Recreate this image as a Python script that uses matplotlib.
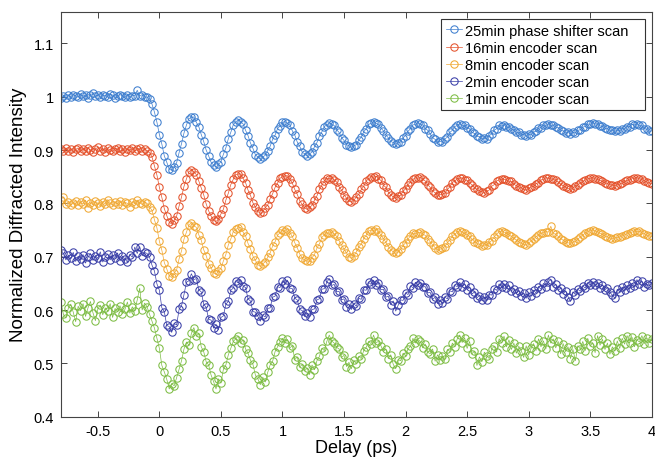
import matplotlib.pyplot as plt
import numpy as np
from matplotlib.patches import Rectangle
from matplotlib.ticker import FuncFormatter

plt.rcParams['font.family'] = ['Liberation Sans', 'DejaVu Sans']

# delay axis, 20 fs steps from -0.8 to 4 ps
delay = np.round(np.arange(-0.8, 4.0001, 0.02), 2)

scan_25min = [
    0.998, 1.001, 0.997, 1.003, 1.000, 1.004, 1.002, 0.999, 1.005, 1.001,
    1.003, 0.998, 1.004, 1.006, 1.001, 1.003, 0.999, 1.004, 1.002, 1.000,
    1.005, 1.003, 0.998, 1.002, 1.004, 1.001, 0.999, 1.003, 1.000, 1.002,
    1.002, 1.012, 1.001, 1.004, 1.000, 0.999, 0.996, 0.986, 0.971, 0.952,
    0.929, 0.911, 0.889, 0.877, 0.864, 0.862, 0.868, 0.876, 0.895, 0.912,
    0.932, 0.947, 0.959, 0.961, 0.962, 0.952, 0.944, 0.929, 0.916, 0.900,
    0.889, 0.877, 0.872, 0.868, 0.873, 0.878, 0.892, 0.904, 0.921, 0.933,
    0.947, 0.952, 0.957, 0.953, 0.949, 0.937, 0.927, 0.913, 0.903, 0.891,
    0.887, 0.883, 0.887, 0.890, 0.899, 0.907, 0.920, 0.928, 0.940, 0.945,
    0.952, 0.953, 0.950, 0.947, 0.936, 0.928, 0.915, 0.907, 0.896, 0.893,
    0.889, 0.893, 0.896, 0.906, 0.914, 0.926, 0.934, 0.944, 0.947, 0.951,
    0.948, 0.946, 0.938, 0.933, 0.923, 0.918, 0.910, 0.908, 0.905, 0.908,
    0.910, 0.919, 0.924, 0.934, 0.940, 0.948, 0.950, 0.953, 0.950, 0.948,
    0.941, 0.936, 0.928, 0.923, 0.916, 0.914, 0.911, 0.914, 0.915, 0.923,
    0.927, 0.935, 0.940, 0.947, 0.948, 0.951, 0.948, 0.947, 0.940, 0.937,
    0.930, 0.923, 0.920, 0.915, 0.916, 0.915, 0.921, 0.924, 0.933, 0.937,
    0.944, 0.946, 0.949, 0.946, 0.946, 0.941, 0.940, 0.933, 0.931, 0.926,
    0.925, 0.921, 0.922, 0.921, 0.927, 0.930, 0.937, 0.940, 0.946, 0.945,
    0.947, 0.943, 0.943, 0.939, 0.938, 0.933, 0.933, 0.929, 0.929, 0.927,
    0.930, 0.929, 0.934, 0.935, 0.941, 0.942, 0.947, 0.946, 0.949, 0.946,
    0.947, 0.943, 0.942, 0.937, 0.936, 0.932, 0.933, 0.930, 0.933, 0.932,
    0.937, 0.938, 0.943, 0.944, 0.949, 0.948, 0.951, 0.949, 0.949, 0.945,
    0.945, 0.941, 0.940, 0.937, 0.937, 0.935, 0.937, 0.936, 0.940, 0.940,
    0.944, 0.944, 0.948, 0.947, 0.949, 0.946, 0.946, 0.940, 0.939, 0.935,
    0.936,
]

scan_16min = [
    0.901, 0.898, 0.903, 0.899, 0.902, 0.897, 0.901, 0.904, 0.899, 0.902,
    0.898, 0.903, 0.900, 0.896, 0.902, 0.905, 0.899, 0.901, 0.897, 0.903,
    0.900, 0.898, 0.902, 0.904, 0.899, 0.901, 0.897, 0.902, 0.900, 0.903,
    0.898, 0.901, 0.904, 0.899, 0.901, 0.899, 0.895, 0.887, 0.870, 0.853,
    0.830, 0.811, 0.790, 0.777, 0.765, 0.761, 0.768, 0.776, 0.795, 0.812,
    0.832, 0.846, 0.859, 0.863, 0.859, 0.854, 0.842, 0.829, 0.816, 0.799,
    0.786, 0.776, 0.768, 0.766, 0.770, 0.780, 0.789, 0.806, 0.819, 0.835,
    0.845, 0.854, 0.855, 0.855, 0.847, 0.839, 0.825, 0.815, 0.801, 0.793,
    0.785, 0.781, 0.784, 0.792, 0.797, 0.809, 0.818, 0.830, 0.838, 0.847,
    0.850, 0.851, 0.852, 0.845, 0.838, 0.826, 0.817, 0.805, 0.798, 0.791,
    0.789, 0.793, 0.796, 0.806, 0.814, 0.826, 0.834, 0.842, 0.847, 0.846,
    0.848, 0.844, 0.840, 0.831, 0.825, 0.816, 0.810, 0.804, 0.803, 0.806,
    0.812, 0.817, 0.826, 0.832, 0.842, 0.846, 0.850, 0.849, 0.851, 0.846,
    0.843, 0.834, 0.830, 0.821, 0.816, 0.812, 0.810, 0.814, 0.815, 0.823,
    0.827, 0.835, 0.840, 0.845, 0.848, 0.847, 0.849, 0.845, 0.842, 0.835,
    0.830, 0.823, 0.820, 0.815, 0.816, 0.817, 0.819, 0.826, 0.831, 0.839,
    0.842, 0.846, 0.847, 0.848, 0.844, 0.843, 0.838, 0.835, 0.829, 0.826,
    0.823, 0.822, 0.820, 0.823, 0.825, 0.832, 0.835, 0.842, 0.844, 0.845,
    0.845, 0.844, 0.841, 0.841, 0.836, 0.833, 0.831, 0.829, 0.826, 0.825,
    0.828, 0.831, 0.832, 0.837, 0.839, 0.844, 0.845, 0.848, 0.847, 0.846,
    0.845, 0.843, 0.840, 0.836, 0.833, 0.830, 0.828, 0.826, 0.829, 0.832,
    0.835, 0.838, 0.841, 0.844, 0.846, 0.847, 0.848, 0.846, 0.845, 0.843,
    0.841, 0.839, 0.837, 0.835, 0.834, 0.833, 0.835, 0.836, 0.838, 0.841,
    0.843, 0.844, 0.846, 0.847, 0.848, 0.846, 0.845, 0.842, 0.840, 0.838,
    0.837,
]

scan_8min = [
    0.807, 0.812, 0.799, 0.803, 0.797, 0.801, 0.805, 0.796, 0.802, 0.799,
    0.806, 0.792, 0.801, 0.797, 0.804, 0.800, 0.795, 0.803, 0.798, 0.807,
    0.801, 0.796, 0.803, 0.799, 0.805, 0.797, 0.802, 0.800, 0.794, 0.803,
    0.799, 0.806, 0.801, 0.798, 0.802, 0.800, 0.793, 0.787, 0.769, 0.754,
    0.729, 0.712, 0.689, 0.677, 0.664, 0.661, 0.669, 0.675, 0.696, 0.711,
    0.733, 0.746, 0.759, 0.764, 0.758, 0.755, 0.741, 0.731, 0.713, 0.702,
    0.687, 0.679, 0.670, 0.667, 0.673, 0.678, 0.692, 0.704, 0.722, 0.733,
    0.747, 0.751, 0.754, 0.755, 0.746, 0.739, 0.725, 0.715, 0.701, 0.693,
    0.685, 0.682, 0.687, 0.690, 0.699, 0.707, 0.720, 0.728, 0.740, 0.745,
    0.750, 0.749, 0.752, 0.745, 0.738, 0.726, 0.717, 0.705, 0.698, 0.693,
    0.692, 0.691, 0.698, 0.704, 0.716, 0.724, 0.736, 0.741, 0.745, 0.744,
    0.746, 0.743, 0.738, 0.730, 0.722, 0.714, 0.707, 0.700, 0.697, 0.701,
    0.709, 0.718, 0.724, 0.734, 0.740, 0.748, 0.750, 0.749, 0.751, 0.746,
    0.741, 0.734, 0.727, 0.719, 0.713, 0.709, 0.706, 0.709, 0.714, 0.721,
    0.726, 0.733, 0.739, 0.744, 0.743, 0.745, 0.746, 0.742, 0.740, 0.734,
    0.728, 0.722, 0.717, 0.713, 0.714, 0.716, 0.719, 0.726, 0.731, 0.739,
    0.742, 0.746, 0.749, 0.746, 0.744, 0.741, 0.738, 0.733, 0.728, 0.725,
    0.723, 0.720, 0.722, 0.721, 0.727, 0.730, 0.737, 0.742, 0.747, 0.748,
    0.746, 0.745, 0.741, 0.738, 0.735, 0.731, 0.728, 0.725, 0.723, 0.722,
    0.726, 0.729, 0.734, 0.737, 0.741, 0.744, 0.745, 0.747, 0.746, 0.757,
    0.744, 0.742, 0.738, 0.734, 0.731, 0.728, 0.726, 0.725, 0.727, 0.729,
    0.733, 0.737, 0.741, 0.744, 0.747, 0.749, 0.750, 0.748, 0.747, 0.744,
    0.742, 0.739, 0.737, 0.735, 0.734, 0.735, 0.736, 0.737, 0.739, 0.741,
    0.743, 0.745, 0.746, 0.748, 0.747, 0.748, 0.745, 0.743, 0.740, 0.739,
    0.738,
]

scan_2min = [
    0.713, 0.706, 0.694, 0.703, 0.697, 0.708, 0.691, 0.701, 0.696, 0.704,
    0.688, 0.699, 0.706, 0.693, 0.702, 0.697, 0.709, 0.690, 0.700, 0.705,
    0.694, 0.703, 0.698, 0.707, 0.692, 0.701, 0.696, 0.690, 0.704, 0.699,
    0.718, 0.706, 0.719, 0.702, 0.708, 0.706, 0.699, 0.684, 0.673, 0.649,
    0.637, 0.604, 0.597, 0.571, 0.569, 0.558, 0.575, 0.572, 0.601, 0.608,
    0.629, 0.652, 0.655, 0.668, 0.657, 0.659, 0.638, 0.634, 0.611, 0.605,
    0.583, 0.581, 0.566, 0.573, 0.563, 0.586, 0.589, 0.611, 0.616, 0.637,
    0.641, 0.654, 0.651, 0.657, 0.645, 0.642, 0.621, 0.617, 0.597, 0.596,
    0.588, 0.579, 0.590, 0.587, 0.603, 0.604, 0.624, 0.626, 0.644, 0.642,
    0.655, 0.649, 0.656, 0.641, 0.640, 0.622, 0.619, 0.601, 0.599, 0.588,
    0.594, 0.587, 0.601, 0.602, 0.619, 0.621, 0.639, 0.640, 0.652, 0.659,
    0.646, 0.648, 0.634, 0.635, 0.619, 0.621, 0.606, 0.611, 0.601, 0.612,
    0.607, 0.622, 0.620, 0.638, 0.637, 0.652, 0.648, 0.656, 0.647, 0.650,
    0.638, 0.639, 0.624, 0.626, 0.610, 0.617, 0.598, 0.609, 0.619, 0.618,
    0.632, 0.629, 0.645, 0.642, 0.652, 0.647, 0.651, 0.643, 0.644, 0.632,
    0.633, 0.620, 0.624, 0.612, 0.619, 0.613, 0.624, 0.621, 0.636, 0.634,
    0.646, 0.644, 0.652, 0.643, 0.649, 0.638, 0.643, 0.630, 0.634, 0.623,
    0.627, 0.619, 0.624, 0.618, 0.629, 0.628, 0.640, 0.637, 0.649, 0.644,
    0.649, 0.641, 0.646, 0.636, 0.640, 0.631, 0.636, 0.627, 0.631, 0.622,
    0.633, 0.626, 0.637, 0.632, 0.644, 0.639, 0.650, 0.644, 0.653, 0.657,
    0.643, 0.648, 0.637, 0.641, 0.630, 0.636, 0.625, 0.616, 0.634, 0.629,
    0.639, 0.635, 0.645, 0.641, 0.651, 0.646, 0.653, 0.647, 0.650, 0.642,
    0.647, 0.638, 0.642, 0.633, 0.628, 0.622, 0.639, 0.634, 0.643, 0.638,
    0.646, 0.642, 0.650, 0.645, 0.657, 0.649, 0.654, 0.644, 0.648, 0.646,
    0.650,
]

scan_1min = [
    0.615, 0.592, 0.585, 0.603, 0.611, 0.596, 0.578, 0.607, 0.599, 0.612,
    0.588, 0.604, 0.616, 0.595, 0.580, 0.602, 0.609, 0.591, 0.604, 0.598,
    0.612, 0.586, 0.603, 0.597, 0.608, 0.593, 0.601, 0.615, 0.594, 0.606,
    0.598, 0.619, 0.641, 0.600, 0.613, 0.606, 0.592, 0.579, 0.566, 0.547,
    0.528, 0.496, 0.484, 0.470, 0.452, 0.462, 0.458, 0.473, 0.489, 0.505,
    0.527, 0.540, 0.534, 0.556, 0.567, 0.551, 0.556, 0.531, 0.522, 0.503,
    0.497, 0.478, 0.466, 0.452, 0.471, 0.463, 0.489, 0.497, 0.516, 0.528,
    0.541, 0.546, 0.551, 0.538, 0.544, 0.527, 0.519, 0.506, 0.498, 0.478,
    0.471, 0.460, 0.474, 0.465, 0.483, 0.497, 0.504, 0.522, 0.531, 0.540,
    0.547, 0.538, 0.545, 0.529, 0.533, 0.507, 0.512, 0.493, 0.498, 0.486,
    0.491, 0.479, 0.497, 0.488, 0.505, 0.513, 0.528, 0.524, 0.541, 0.553,
    0.542, 0.538, 0.530, 0.527, 0.511, 0.515, 0.494, 0.502, 0.490, 0.506,
    0.499, 0.513, 0.509, 0.524, 0.530, 0.541, 0.537, 0.553, 0.539, 0.541,
    0.533, 0.522, 0.527, 0.509, 0.516, 0.498, 0.490, 0.507, 0.505, 0.519,
    0.514, 0.527, 0.532, 0.547, 0.538, 0.545, 0.541, 0.529, 0.536, 0.521,
    0.518, 0.527, 0.504, 0.516, 0.506, 0.513, 0.509, 0.526, 0.522, 0.538,
    0.531, 0.546, 0.553, 0.539, 0.548, 0.528, 0.541, 0.518, 0.523, 0.496,
    0.512, 0.503, 0.521, 0.514, 0.509, 0.527, 0.532, 0.521, 0.546, 0.538,
    0.551, 0.531, 0.544, 0.526, 0.538, 0.519, 0.532, 0.524, 0.511, 0.533,
    0.516, 0.528, 0.537, 0.524, 0.546, 0.531, 0.542, 0.527, 0.553, 0.538,
    0.546, 0.529, 0.541, 0.518, 0.537, 0.522, 0.531, 0.509, 0.526, 0.505,
    0.533, 0.527, 0.541, 0.524, 0.547, 0.532, 0.539, 0.520, 0.552, 0.534,
    0.545, 0.526, 0.538, 0.517, 0.531, 0.523, 0.542, 0.528, 0.547, 0.536,
    0.552, 0.538, 0.549, 0.531, 0.544, 0.540, 0.552, 0.537, 0.548, 0.539,
    0.545,
]

labels = ['25min phase shifter scan', '16min encoder scan', '8min encoder scan',
          '2min encoder scan', '1min encoder scan']
colors = ['#3f7fcf', '#e4522c', '#f0a935', '#3a3fa8', '#7dbd44']
scans = [scan_25min, scan_16min, scan_8min, scan_2min, scan_1min]

fig = plt.figure(figsize=(6.55, 4.6), dpi=100)
ax = fig.add_axes([0.093, 0.092, 0.902, 0.880])

for y, c, lab in zip(scans, colors, labels):
    ax.plot(delay, y, '-o', color=c, lw=0.5, ms=5.3, mfc='none', mew=0.75, label=lab)

ax.set_xlim(-0.8, 4.0)
ax.set_ylim(0.4, 1.159)
ax.set_xticks(np.arange(-0.5, 4.01, 0.5))
ax.set_yticks(np.arange(0.4, 1.101, 0.1))
ax.xaxis.set_major_formatter(FuncFormatter(lambda v, p: f'{v:g}'))
ax.yaxis.set_major_formatter(FuncFormatter(lambda v, p: f'{round(v, 2):g}'))
ax.tick_params(direction='in', top=True, right=True, length=4, width=0.7,
               color='#444444', labelsize=10.5, pad=5)
for s in ax.spines.values():
    s.set_linewidth(0.8)
    s.set_color('#444444')

ax.set_xlabel('Delay (ps)', fontsize=13, labelpad=1)
ax.set_ylabel('Normalized Diffracted Intensity', fontsize=13.5, labelpad=5)

# legend without its own frame; the box is drawn wider to the right
leg = ax.legend(loc='upper left', bbox_to_anchor=(0.676, 0.953),
                bbox_transform=fig.transFigure, fontsize=10.5, frameon=False,
                handlelength=1.1, handletextpad=0.25, labelspacing=0.22,
                borderpad=0.2, borderaxespad=0)
box = Rectangle((0.673, 0.759), 0.312, 0.198, transform=fig.transFigure,
                facecolor='white', edgecolor='#333333', lw=0.8, zorder=4)
fig.add_artist(box)
leg.set_zorder(5)
fig.add_artist(leg)

fig.savefig('out.png', dpi=100)
